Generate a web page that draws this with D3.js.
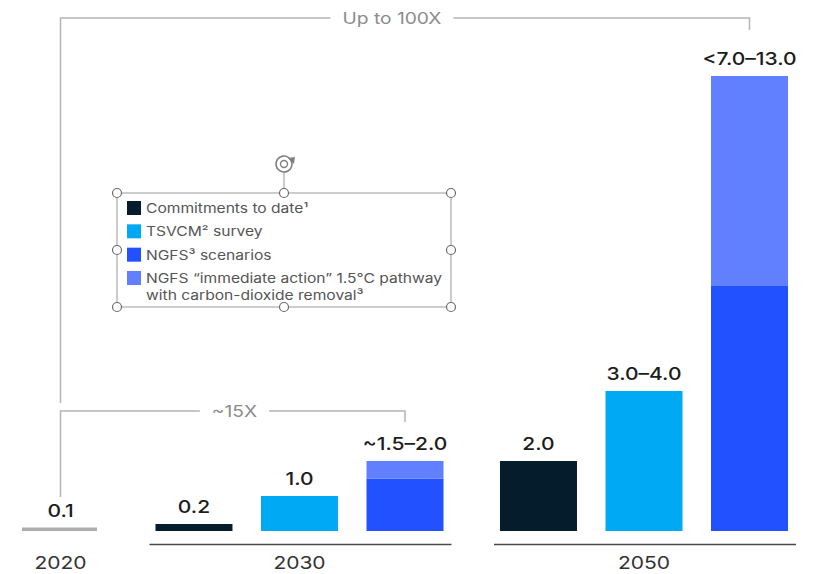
<!DOCTYPE html>
<html>
<head>
<meta charset="utf-8">
<script src="https://cdn.jsdelivr.net/npm/d3@7"></script>
<style>
  body { margin: 0; background: #fff; }
  svg { display: block; font-family: Inter, "Noto Sans", sans-serif; }
</style>
</head>
<body>
<div id="chart"></div>
<script>
// data
const years = ["2020", "2030", "2050"];
const seriesKeys = ["commit", "tsvcm", "ngfs", "ngfsImmediate"];
const seriesNames = [
  ["Commitments to date¹"],
  ["TSVCM² survey"],
  ["NGFS³ scenarios"],
  ["NGFS “immediate action” 1.5°C pathway", "with carbon-dioxide removal³"]
];
const barYear = ["2020", "2030", "2030", "2030", "2050", "2050", "2050"];
const barSeries = ["base", "commit", "tsvcm", "ngfs", "commit", "tsvcm", "ngfs"];
const barValue = [0.1, 0.2, 1.0, 1.5, 2.0, 4.0, 7.0];   // solid part
const barTop = [0.1, 0.2, 1.0, 2.0, 2.0, 4.0, 13.0];    // top incl. immediate-action range
const barLabels = ["0.1", "0.2", "1.0", "~1.5–2.0", "2.0", "3.0–4.0", "<7.0–13.0"];
const bracketFrom = [0, 0];
const bracketTo = [3, 6];
const bracketLabels = ["~15X", "Up to 100X"];

const W = 819, H = 574;
const stretch = 1.2;   // the reference text is wide
const colors = {
  base: "#adadad",
  commit: "#051c2c",
  tsvcm: "#00a9f4",
  ngfs: "#2251ff",
  ngfsImmediate: "#6080ff"
};

const svg = d3.select("#chart").append("svg")
  .attr("width", W).attr("height", H);

// position of each bar: index plus a gap between year groups
const groupGap = 0.265;
const pos = barYear.map((yr, i) => i + years.indexOf(yr) * groupGap);
const x = d3.scaleLinear()
  .domain([0, d3.max(pos)])
  .range([22, 711]);
const bw = 77;
const y = d3.scaleLinear().domain([0, 13]).range([531, 76]);

const bars = barYear.map((yr, i) => ({
  i, yr, s: barSeries[i], v: barValue[i], top: barTop[i], label: barLabels[i],
  x0: x(pos[i]), cx: x(pos[i]) + bw / 2
}));

function stext(sel, tx, ty) {
  return sel.attr("transform", "translate(" + tx + "," + ty + ") scale(" + stretch + ",1)");
}

// bars
svg.selectAll(".bar").data(bars).enter().append("rect")
  .attr("class", "bar")
  .attr("x", d => d.x0)
  .attr("width", d => d.s == "base" ? bw - 2 : bw)
  .attr("y", d => y(d.v))
  .attr("height", d => y(0) - y(d.v))
  .attr("fill", d => colors[d.s]);

// upper immediate-action range on NGFS bars
svg.selectAll(".bar-up").data(bars.filter(d => d.s == "ngfs")).enter().append("rect")
  .attr("class", "bar-up")
  .attr("x", d => d.x0)
  .attr("width", bw)
  .attr("y", d => y(d.top))
  .attr("height", d => y(d.v) - y(d.top))
  .attr("fill", colors.ngfsImmediate);

// value labels
svg.selectAll(".val").data(bars).enter().append("text")
  .attr("class", "val")
  .each(function (d) { stext(d3.select(this), d.cx, y(d.top) - 11); })
  .attr("text-anchor", "middle")
  .attr("font-size", 17.5)
  .attr("font-weight", 500)
  .attr("fill", "#1c1c1c")
  .text(d => d.label);

// year rules and labels
years.forEach(yr => {
  const g = bars.filter(d => d.yr == yr);
  const xa = d3.min(g, d => d.x0), xb = d3.max(g, d => d.x0 + bw);
  if (g.length > 1) {
    svg.append("line")
      .attr("x1", xa - 6).attr("x2", xb + 8)
      .attr("y1", 544.5).attr("y2", 544.5)
      .attr("stroke", "#4a4a4a").attr("stroke-width", 1.5);
  }
  stext(svg.append("text"), (xa + xb) / 2, 569)
    .attr("text-anchor", "middle")
    .attr("font-size", 17.5)
    .attr("fill", "#333")
    .text(yr);
});

// brackets
const bracketY = [411, 18];
const bracketEnd = [422, 30];
const bracketBottom = [497, 403];
bracketLabels.forEach((lab, k) => {
  const xa = bars[bracketFrom[k]].cx, xb = bars[bracketTo[k]].cx;
  const by = bracketY[k];
  const t = svg.append("text")
    .attr("text-anchor", "middle")
    .attr("font-size", 16)
    .attr("fill", "#8c8c8c")
    .text(lab);
  const tw = t.node().getComputedTextLength() * stretch;
  const mid = xa + (bracketTo[k] == 6 ? 0.481 : 0.505) * (xb - xa);
  stext(t, mid, by + 6);
  const path = d3.path();
  path.moveTo(xa, bracketBottom[k]);
  path.lineTo(xa, by);
  path.lineTo(mid - tw / 2 - 12, by);
  path.moveTo(mid + tw / 2 + 12, by);
  path.lineTo(xb, by);
  path.lineTo(xb, bracketEnd[k]);
  svg.append("path")
    .attr("d", path.toString())
    .attr("fill", "none")
    .attr("stroke", "#b4b4b4")
    .attr("stroke-width", 1.5);
});

// legend (with the selection frame seen in the picture)
const lg = { x0: 117, y0: 193, x1: 451, y1: 307 };
const legend = svg.append("g");
legend.append("rect")
  .attr("x", lg.x0).attr("y", lg.y0)
  .attr("width", lg.x1 - lg.x0).attr("height", lg.y1 - lg.y0)
  .attr("fill", "none").attr("stroke", "#9a9a9a").attr("stroke-width", 1);

const lmx = (lg.x0 + lg.x1) / 2, lmy = (lg.y0 + lg.y1) / 2;
legend.append("line")
  .attr("x1", lmx).attr("x2", lmx).attr("y1", lg.y0).attr("y2", 172)
  .attr("stroke", "#9a9a9a");
const rot = d3.path();
rot.arc(lmx, 164, 8, -Math.PI * 0.3, Math.PI * 1.8);
legend.append("path").attr("d", rot.toString())
  .attr("fill", "none").attr("stroke", "#808080").attr("stroke-width", 1.6);
legend.append("circle").attr("cx", lmx).attr("cy", 164).attr("r", 3.5)
  .attr("fill", "none").attr("stroke", "#808080").attr("stroke-width", 1.4);
legend.append("path")
  .attr("d", "M" + (lmx + 4) + ",158 l7,-1 l-1,7 z")
  .attr("fill", "#808080");

const handles = [[lg.x0, lg.y0], [lmx, lg.y0], [lg.x1, lg.y0], [lg.x0, lmy], [lg.x1, lmy],
  [lg.x0, lg.y1], [lmx, lg.y1], [lg.x1, lg.y1]];
legend.selectAll(".handle").data(handles).enter().append("circle")
  .attr("class", "handle")
  .attr("cx", d => d[0]).attr("cy", d => d[1]).attr("r", 4.5)
  .attr("fill", "#fff").attr("stroke", "#6a6a6a").attr("stroke-width", 1.2);

const itemY = d3.scalePoint().domain(seriesKeys).range([208, 278]);
seriesKeys.forEach((k, i) => {
  legend.append("rect")
    .attr("x", 127).attr("y", itemY(k) - 7)
    .attr("width", 14).attr("height", 14)
    .attr("fill", colors[k]);
  seriesNames[i].forEach((line, j) => {
    stext(legend.append("text"), 146, itemY(k) + 5 + j * 17)
      .attr("font-size", 13)
      .attr("fill", "#555")
      .text(line);
  });
});
</script>
</body>
</html>
